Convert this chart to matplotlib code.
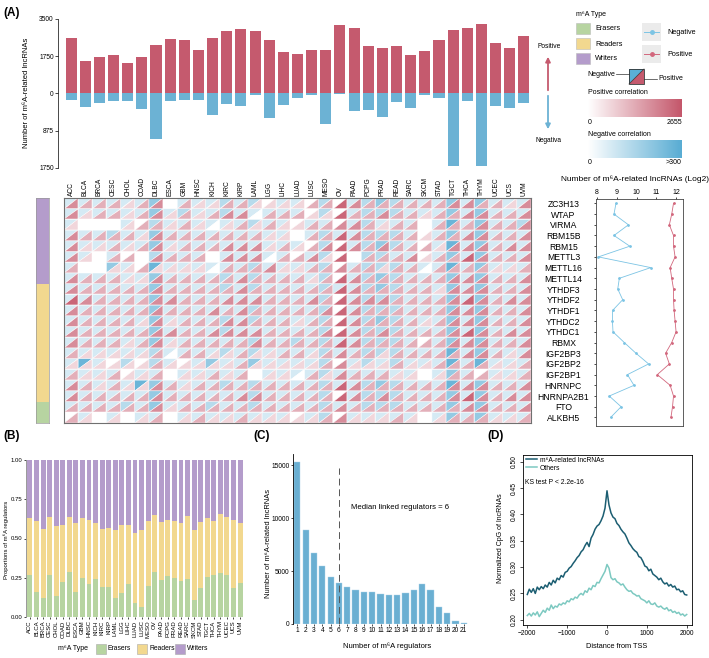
import numpy as np
import matplotlib.pyplot as plt
from matplotlib.collections import PolyCollection
from matplotlib.colors import LinearSegmentedColormap
from matplotlib.patches import Rectangle, Polygon

plt.rcParams['font.family'] = ['Liberation Sans', 'DejaVu Sans']

# ---- panel A: bars ----
cancers = ['ACC', 'BLCA', 'BRCA', 'CESC', 'CHOL', 'COAD', 'DLBC', 'ESCA', 'GBM', 'HNSC', 'KICH',
           'KIRC', 'KIRP', 'LAML', 'LGG', 'LIHC', 'LUAD', 'LUSC', 'MESO', 'OV', 'PAAD', 'PCPG',
           'PRAD', 'READ', 'SARC', 'SKCM', 'STAD', 'TGCT', 'THCA', 'THYM', 'UCEC', 'UCS', 'UVM']
pos_counts = [2620, 1540, 1695, 1790, 1430, 1695, 2275, 2575, 2510, 2055, 2620, 2950, 3045,
              2935, 2525, 1930, 1870, 2040, 2040, 3235, 3060, 2245, 2120, 2215, 1805, 1995,
              2525, 2980, 3060, 3250, 2385, 2120, 2700]
neg_counts = [157, 314, 220, 180, 180, 369, 1060, 165, 141, 141, 495, 251, 298, 39, 581, 259,
              102, 24, 707, 8, 400, 385, 542, 204, 345, 31, 94, 1703, 180, 1703, 298, 345, 220]

# ---- panel A: heatmap (approximate levels 0-4 read per cell) ----
regulators = ['ZC3H13', 'WTAP', 'VIRMA', 'RBM15B', 'RBM15', 'METTL3', 'METTL16', 'METTL14',
              'YTHDF3', 'YTHDF2', 'YTHDF1', 'YTHDC2', 'YTHDC1', 'RBMX', 'IGF2BP3', 'IGF2BP2',
              'IGF2BP1', 'HNRNPC', 'HNRNPA2B1', 'FTO', 'ALKBH5']
reg_types = ['Writers'] * 8 + ['Readers'] * 11 + ['Erasers'] * 2
heat_pos = [
    "322 212 302 112 211 112 243 222 222 332 213",
    "312 212 312 123 302 221 142 232 212 233 223",
    "100 012 212 101 212 112 233 212 202 223 223",
    "322 221 322 222 221 102 243 222 212 233 223",
    "311 212 312 223 331 212 343 232 221 333 233",
    "310 220 322 203 330 223 140 222 312 243 223",
    "200 112 111 102 223 112 232 212 202 222 112",
    "322 211 322 222 322 221 243 222 222 333 223",
    "322 222 322 222 322 222 243 222 221 333 223",
    "432 222 332 223 332 223 243 332 222 343 233",
    "322 222 322 232 322 222 343 222 222 333 223",
    "322 221 312 223 322 212 243 222 212 333 223",
    "322 222 332 233 332 222 343 232 222 343 233",
    "322 212 312 222 232 222 243 222 222 333 223",
    "211 111 202 211 211 221 232 212 222 233 213",
    "111 111 211 111 211 111 231 112 112 222 112",
    "211 211 201 121 201 102 132 221 101 222 112",
    "321 211 321 222 222 222 243 222 222 333 223",
    "322 222 322 222 332 222 243 232 222 343 233",
    "222 222 312 222 222 222 232 222 222 233 223",
    "210 101 201 211 211 111 231 112 101 222 112",
]
heat_neg = [
    "111 111 301 112 120 110 201 232 111 313 111",
    "111 111 312 112 111 110 201 222 111 313 111",
    "100 010 211 111 121 101 101 211 101 413 112",
    "111 211 311 111 111 101 211 222 101 313 111",
    "111 111 311 111 111 110 201 232 101 413 111",
    "110 100 211 101 111 101 200 221 101 313 111",
    "100 310 411 111 121 111 201 222 111 413 111",
    "111 111 311 112 121 111 201 232 111 313 111",
    "111 111 311 112 121 111 211 232 111 313 111",
    "111 111 311 111 111 111 201 222 111 313 111",
    "111 111 311 111 121 111 201 222 111 313 111",
    "111 111 311 112 121 111 201 232 111 313 111",
    "111 111 311 112 111 111 201 222 111 313 111",
    "111 111 311 111 121 121 211 222 101 313 111",
    "111 111 211 112 121 111 211 222 111 413 111",
    "141 020 210 131 131 111 201 212 111 414 111",
    "111 101 101 111 101 111 211 111 101 310 111",
    "111 114 311 112 121 111 211 232 111 413 111",
    "111 111 311 111 121 111 201 222 111 313 111",
    "111 121 311 121 121 111 211 222 111 313 111",
    "010 101 101 111 111 101 201 111 101 313 111",
]
pos_level_counts = [0, 650, 1250, 1800, 2400]
neg_level_counts = [0, 75, 130, 190, 265]

log2_neg = [8.96, 8.86, 9.59, 8.86, 9.66, 8.07, 10.72, 9.13, 9.05, 9.30, 8.79, 8.78, 8.81,
            9.38, 9.97, 10.61, 9.54, 9.87, 8.62, 9.22, 8.69]
log2_pos = [11.87, 11.78, 11.66, 11.87, 11.87, 11.95, 11.70, 11.78, 11.87, 11.87, 11.90, 11.95,
            12.00, 11.78, 11.47, 11.66, 11.05, 11.70, 11.87, 11.82, 11.74]

# ---- panel B ----
erasers_prop = [0.27, 0.16, 0.12, 0.265, 0.135, 0.22, 0.285, 0.16, 0.25, 0.213, 0.243, 0.19,
                0.19, 0.12, 0.153, 0.21, 0.087, 0.064, 0.198, 0.287, 0.238, 0.26, 0.25, 0.23,
                0.245, 0.106, 0.187, 0.255, 0.266, 0.283, 0.266, 0.185, 0.217]
readers_top = [0.632, 0.61, 0.56, 0.634, 0.579, 0.587, 0.638, 0.598, 0.628, 0.621, 0.596, 0.56,
               0.566, 0.553, 0.589, 0.589, 0.538, 0.557, 0.61, 0.647, 0.606, 0.617, 0.613, 0.60,
               0.645, 0.551, 0.604, 0.632, 0.613, 0.655, 0.64, 0.621, 0.60]

# ---- panel C ----
n_regulators = list(range(1, 22))
n_lnc = [15300, 8870, 6730, 5470, 4470, 3900, 3490, 3210, 3050, 3020, 2800, 2770, 2740, 2930,
         3210, 3800, 3180, 1640, 1040, 280, 60]

# ---- panel D ----
tss = np.arange(-2000, 2001, 50)
cpg_m6a = [0.248, 0.258, 0.252, 0.259, 0.250, 0.262, 0.257, 0.263, 0.259, 0.266, 0.262, 0.271,
           0.266, 0.275, 0.270, 0.279, 0.276, 0.284, 0.281, 0.290, 0.292, 0.298, 0.301, 0.307,
           0.312, 0.318, 0.322, 0.329, 0.333, 0.341, 0.347, 0.339, 0.355, 0.362, 0.372, 0.378,
           0.381, 0.388, 0.397, 0.412, 0.445, 0.418, 0.403, 0.395, 0.392, 0.383, 0.379, 0.372,
           0.367, 0.363, 0.355, 0.346, 0.341, 0.335, 0.331, 0.328, 0.320, 0.318, 0.311, 0.302,
           0.300, 0.293, 0.296, 0.287, 0.284, 0.281, 0.276, 0.279, 0.272, 0.268, 0.270, 0.264,
           0.267, 0.262, 0.264, 0.257, 0.258, 0.253, 0.255, 0.248, 0.247]
cpg_other = [0.208, 0.212, 0.207, 0.213, 0.209, 0.215, 0.206, 0.212, 0.218, 0.214, 0.222, 0.218,
             0.228, 0.221, 0.226, 0.224, 0.230, 0.228, 0.232, 0.230, 0.236, 0.234, 0.240, 0.238,
             0.243, 0.241, 0.247, 0.250, 0.247, 0.255, 0.252, 0.260, 0.257, 0.265, 0.263, 0.271,
             0.270, 0.278, 0.285, 0.292, 0.305, 0.298, 0.280, 0.276, 0.278, 0.272, 0.270, 0.266,
             0.268, 0.262, 0.257, 0.254, 0.255, 0.250, 0.248, 0.245, 0.246, 0.240, 0.238, 0.236,
             0.232, 0.236, 0.230, 0.229, 0.232, 0.226, 0.224, 0.226, 0.222, 0.220, 0.223, 0.217,
             0.219, 0.214, 0.216, 0.212, 0.214, 0.209, 0.211, 0.207, 0.210]

RED = '#c55a6e'
BLUE = '#6cb2d4'
type_colors = {'Erasers': '#b7d4a1', 'Readers': '#f2d88f', 'Writers': '#b49ccb'}
pos_cmap = LinearSegmentedColormap.from_list('pos', ['#ffffff', '#c4566a'])
neg_cmap = LinearSegmentedColormap.from_list('neg', ['#ffffff', '#58acd3'])

W, H = 709, 658
fig = plt.figure(figsize=(W / 100, H / 100), dpi=100)


def px(x0, y0, x1, y1):
    return [x0 / W, 1 - y1 / H, (x1 - x0) / W, (y1 - y0) / H]


# bars (negative half drawn at double scale, as in the original axis)
x = np.arange(len(cancers))
axA = fig.add_axes(px(64, 19, 531, 168))
axA.bar(x, pos_counts, width=0.78, color=RED)
axA.bar(x, -2 * np.array(neg_counts), width=0.78, color=BLUE)
axA.set_xlim(-0.5, 32.5)
axA.set_ylim(-3500, 3500)
axA.set_xticks([])
axA.set_yticks([3500, 1750, 0, -1750, -3500], ['3500', '1750', '0', '875', '1750'])
axA.tick_params(axis='y', labelsize=4.8, length=2, width=0.5, pad=1)
for s in ['top', 'right', 'bottom']:
    axA.spines[s].set_visible(False)
axA.spines['left'].set_position(('outward', 4.3))
axA.spines['left'].set_linewidth(0.5)

# heatmap of split triangles
axH = fig.add_axes(px(64, 198, 531, 423))
verts, fcols = [], []
for j, reg in enumerate(regulators):
    prow = heat_pos[j].replace(' ', '')
    nrow = heat_neg[j].replace(' ', '')
    for i in range(len(cancers)):
        pc = pos_level_counts[int(prow[i])]
        nc = neg_level_counts[int(nrow[i])]
        l, r, t, b = i - 0.5, i + 0.5, j - 0.5, j + 0.5
        verts.append([(l, t), (r, t), (l, b)])
        fcols.append(neg_cmap(min(nc / 300, 1)))
        verts.append([(r, t), (r, b), (l, b)])
        fcols.append(pos_cmap(min(pc / 2655, 1)))
axH.add_collection(PolyCollection(verts, facecolors=fcols, edgecolors='white', linewidths=0.35))
axH.set_xlim(-0.5, 32.5)
axH.set_ylim(20.5, -0.5)
axH.xaxis.tick_top()
axH.set_xticks(x, cancers, rotation=90, fontsize=4.8)
axH.tick_params(axis='x', length=0, pad=1.5)
axH.set_yticks([])
for s in axH.spines.values():
    s.set_color('#707070')
    s.set_linewidth(0.8)

# regulator type annotation
axT = fig.add_axes(px(36, 198, 49, 423))
axT.barh(range(len(regulators)), 1, height=1.0, color=[type_colors[t] for t in reg_types])
axT.set_ylim(20.5, -0.5)
axT.set_xlim(0, 1)
axT.set_xticks([])
axT.set_yticks([])
for s in axT.spines.values():
    s.set_color('#999999')
    s.set_linewidth(0.5)

# line panel
axL = fig.add_axes(px(596, 199, 683, 426))
rows = np.arange(len(regulators))
axL.plot(log2_neg, rows, color='#7cc4e4', lw=0.6, marker='o', ms=1.0)
axL.plot(log2_pos, rows, color='#d2677d', lw=0.6, marker='o', ms=1.0)
axL.set_xlim(7.95, 12.35)
axL.set_ylim(20.8, -0.41)
axL.xaxis.tick_top()
axL.set_xticks([8, 9, 10, 11, 12])
axL.tick_params(axis='x', labelsize=5, length=1.5, width=0.5, pad=1)
axL.set_yticks(rows, regulators)
axL.tick_params(axis='y', labelsize=6.2, length=1.5, width=0.5, pad=22)
for lab in axL.get_yticklabels():
    lab.set_ha('center')
for s in axL.spines.values():
    s.set_linewidth(0.6)
    s.set_color('#444444')

# ---- panel B ----
axB = fig.add_axes(px(26, 460, 244, 617))
er = np.array(erasers_prop)
rd = np.array(readers_top) - er
wr = 1 - np.array(readers_top)
axB.bar(x, er, width=0.75, color=type_colors['Erasers'])
axB.bar(x, rd, bottom=er, width=0.75, color=type_colors['Readers'])
axB.bar(x, wr, bottom=er + rd, width=0.75, color=type_colors['Writers'])
axB.set_xlim(-0.6, 32.6)
axB.set_ylim(0, 1)
axB.set_yticks([0, 0.25, 0.5, 0.75, 1.0], ['0.00', '0.25', '0.50', '0.75', '1.00'])
axB.set_xticks(x, cancers, rotation=90, fontsize=4.3)
axB.tick_params(axis='y', labelsize=4.3, length=1.5, width=0.5, pad=1)
axB.tick_params(axis='x', length=1.5, width=0.5, pad=1)
for s in ['top', 'right', 'bottom']:
    axB.spines[s].set_visible(False)
axB.spines['left'].set_color('#888888')
axB.spines['left'].set_linewidth(0.6)

# ---- panel C ----
axC = fig.add_axes(px(293, 454, 468, 624))
axC.bar(n_regulators, n_lnc, width=0.75, color='#6aafd2', edgecolor='#a9d3e8', linewidth=0.3)
axC.axvline(6, ymax=0.92, color='#555555', lw=0.7, ls=(0, (7, 4)))
axC.text(7.4, 10950, 'Median linked regulators = 6', fontsize=5.6, va='center', ha='left')
axC.set_xlim(0.48, 21.5)
axC.set_ylim(0, 16040)
axC.set_xticks(n_regulators)
axC.set_yticks([0, 5000, 10000, 15000])
axC.tick_params(labelsize=4.8, length=1.5, width=0.5, pad=1)
for s in ['top', 'right', 'bottom']:
    axC.spines[s].set_visible(False)
axC.spines['left'].set_linewidth(0.6)

# ---- panel D ----
axD = fig.add_axes(px(523, 455, 692, 625))
axD.plot(tss, cpg_m6a, color='#1c5e72', lw=1.1, label='m\u2076A-related lncRNAs')
axD.plot(tss, cpg_other, color='#7dc9c1', lw=1.1, label='Others')
axD.set_xlim(-2108, 2133)
axD.set_ylim(0.19, 0.513)
axD.set_xticks([-2000, -1000, 0, 1000, 2000])
axD.set_yticks([0.2, 0.25, 0.3, 0.35, 0.4, 0.45, 0.5],
               ['0.20', '0.25', '0.30', '0.35', '0.40', '0.45', '0.50'])
axD.tick_params(labelsize=4.8, length=2, width=0.5, pad=1.5)
for lab in axD.get_yticklabels():
    lab.set_rotation(90)
    lab.set_va('center')
for s in axD.spines.values():
    s.set_linewidth(0.6)
axD.legend(loc='upper left', bbox_to_anchor=(-0.005, 1.015), frameon=False, fontsize=4.9,
           handlelength=1.6, handletextpad=0.4, labelspacing=0.15, borderaxespad=0.2)
axD.text(0.012, 0.84, 'KS test P < 2.2e-16', transform=axD.transAxes, fontsize=4.9, va='center')

# ---- overlay: titles, legends, arrows, colorbars ----
ov = fig.add_axes([0, 0, 1, 1])
ov.patch.set_alpha(0)

for lab, (lx, ly) in {'(A)': (3, 13), '(B)': (3, 436), '(C)': (253, 436), '(D)': (487, 436)}.items():
    ov.text(lx, ly, lab, fontsize=8.5, fontweight='bold', va='center')

ov.text(27, 93, 'Number of m\u2076A-related lncRNAs', rotation=90, fontsize=5.5, ha='center', va='center')
ov.text(635, 179, 'Number of m\u2076A-related lncRNAs (Log2)', fontsize=6, ha='center', va='center')
ov.text(6, 540, 'Proportions of m\u2076A regulators', rotation=90, fontsize=4.3, ha='center', va='center')
ov.text(268, 543, 'Number of m\u2076A-related lncRNAs', rotation=90, fontsize=5.4, ha='center', va='center')
ov.text(387, 646, 'Number of m\u2076A regulators', fontsize=5.5, ha='center', va='center')
ov.text(500, 538, 'Normalized CpG of lncRNAs', rotation=90, fontsize=5, ha='center', va='center')
ov.text(617, 647, 'Distance from TSS', fontsize=5.3, ha='center', va='center')

# positive / negative arrows
ov.annotate('', xy=(548, 54), xytext=(548, 93),
            arrowprops=dict(arrowstyle='-|>', color=RED, lw=1.3, mutation_scale=7))
ov.annotate('', xy=(548, 132), xytext=(548, 93),
            arrowprops=dict(arrowstyle='-|>', color=BLUE, lw=1.3, mutation_scale=7))
ov.text(549, 47, 'Positive', fontsize=4.8, ha='center', va='center')
ov.text(549, 141, 'Negativa', fontsize=4.8, ha='center', va='center')

# type legend
ov.text(576, 14, 'm\u2076A Type', fontsize=5, va='center')
for k, t in enumerate(['Erasers', 'Readers', 'Writers']):
    y0 = 23 + k * 15
    ov.add_patch(Rectangle((576, y0), 14, 11, facecolor=type_colors[t], edgecolor='#bbbbbb', lw=0.4))
    ov.text(595, y0 + 6, t, fontsize=5.2, va='center')

# line legend
for k, (t, c) in enumerate([('Negative', '#7cc4e4'), ('Positive', '#d2677d')]):
    y0 = 23 + k * 22
    ov.add_patch(Rectangle((642, y0), 19, 18, facecolor='#ebebeb', edgecolor='none'))
    ov.plot([644, 659], [y0 + 9, y0 + 9], color=c, lw=0.7)
    ov.plot([651.5], [y0 + 9], 'o', color=c, ms=2.5)
    ov.text(667, y0 + 9, t, fontsize=5.2, va='center')

# split square key
ov.add_patch(Polygon([(629, 69), (644, 69), (629, 84)], facecolor='#5aafd6', edgecolor='none'))
ov.add_patch(Polygon([(644, 69), (644, 84), (629, 84)], facecolor=RED, edgecolor='none'))
ov.add_patch(Rectangle((629, 69), 15, 15, facecolor='none', edgecolor='#333333', lw=0.6))
ov.plot([629, 644], [84, 69], color='#333333', lw=0.5)
ov.plot([616, 629], [74, 74], color='#333333', lw=0.5)
ov.plot([644, 657], [79, 79], color='#333333', lw=0.5)
ov.text(615, 74, 'Negative', fontsize=5, ha='right', va='center')
ov.text(658, 79, 'Positive', fontsize=5, ha='left', va='center')

# colour bars
grad = np.linspace(0, 1, 256).reshape(1, -1)
ov.text(588, 93, 'Positive correlation', fontsize=5, va='center')
ov.imshow(grad, cmap=pos_cmap, extent=(588, 682, 117, 99), aspect='auto')
ov.text(588, 122, '0', fontsize=5, va='center')
ov.text(682, 122, '2655', fontsize=5, va='center', ha='right')
ov.text(588, 134, 'Negative correlation', fontsize=5, va='center')
ov.imshow(grad, cmap=neg_cmap, extent=(588, 682, 158, 140), aspect='auto')
ov.text(588, 163, '0', fontsize=5, va='center')
ov.text(682, 163, '>300', fontsize=5, va='center', ha='right')

# panel B legend
ov.text(58, 649, 'm\u2076A Type', fontsize=5, va='center')
for t, bx in [('Erasers', 96), ('Readers', 137), ('Writers', 175)]:
    ov.add_patch(Rectangle((bx, 644), 10, 10, facecolor=type_colors[t], edgecolor='#aaaaaa', lw=0.4))
    ov.text(bx + 12, 649, t, fontsize=4.9, va='center')

ov.set_xlim(0, W)
ov.set_ylim(H, 0)
ov.axis('off')

fig.savefig('out.png', dpi=100)
